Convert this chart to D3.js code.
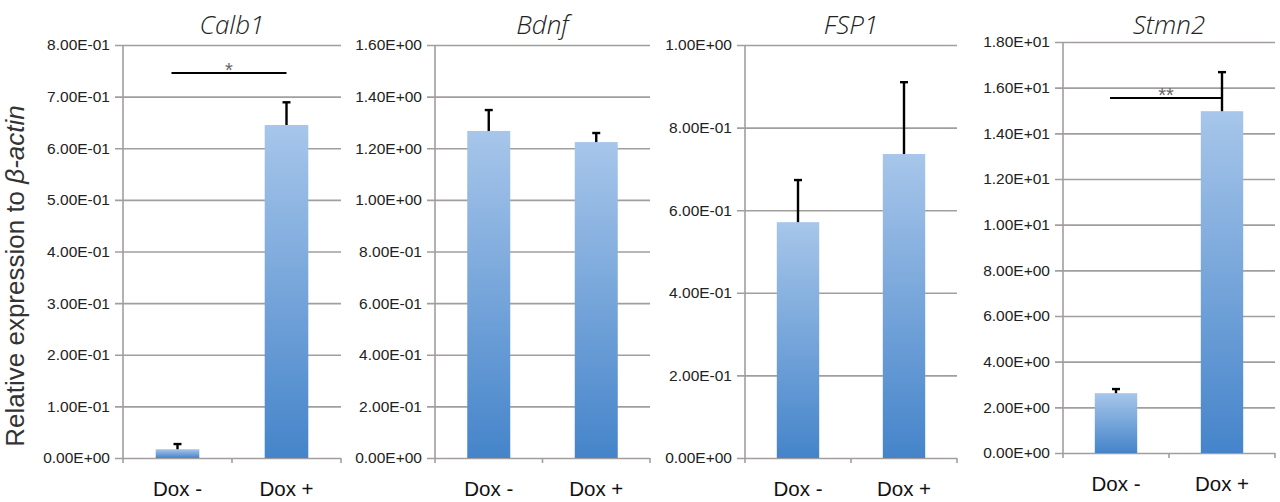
<!DOCTYPE html>
<html>
<head>
<meta charset="utf-8">
<script src="https://cdn.jsdelivr.net/npm/d3@7"></script>
<style>
  body { margin: 0; background: #fff; }
  svg { display: block; }
</style>
</head>
<body>
<div id="chart"></div>
<script>
"use strict";

var genes = ["Calb1", "Bdnf", "FSP1", "Stmn2"];
var groups = ["Dox -", "Dox +"];

// mean expression per gene, [Dox -, Dox +]
var means = [
  [0.017, 0.645],
  [1.267, 1.224],
  [0.571, 0.736],
  [2.62, 14.97]
];
// upper error (sd) per gene
var errors = [
  [0.010, 0.044],
  [0.081, 0.035],
  [0.102, 0.174],
  [0.18, 1.71]
];

var axisMax = [0.8, 1.6, 1.0, 18];
var tickStep = [0.1, 0.2, 0.2, 2];

// significance brackets: gene index, height, label
var sigGene = [0, 3];
var sigLevel = [0.746, 15.55];
var sigLabel = ["*", "**"];

// layout of the four panels (pixels)
var panelLeft = [123, 435, 745, 1063];
var panelWidth = [218, 215, 212, 212];
var panelTop = [45, 45, 45, 42];
var panelBottom = [458, 458, 458, 453];

var W = 1280, H = 502;

var svg = d3.select("#chart").append("svg")
  .attr("width", W)
  .attr("height", H);

var grad = svg.append("defs").append("linearGradient")
  .attr("id", "barGrad")
  .attr("x1", 0).attr("y1", 0).attr("x2", 0).attr("y2", 1);
grad.append("stop").attr("offset", "0%").attr("stop-color", "#a7c6ea");
grad.append("stop").attr("offset", "100%").attr("stop-color", "#4584ca");

function fmtE(v) {
  var s = d3.format(".2e")(v);
  var parts = s.split("e");
  var n = +parts[1];
  return parts[0] + "E" + (n < 0 ? "-" : "+") + String(Math.abs(n)).padStart(2, "0");
}

var gridColor = "#a39e9e";

genes.forEach(function(gene, i) {
  var x0 = panelLeft[i], w = panelWidth[i];
  var g = svg.append("g");

  var x = d3.scaleBand()
    .domain(groups)
    .range([x0, x0 + w])
    .paddingInner(0.6)
    .paddingOuter(0.3);

  var y = d3.scaleLinear()
    .domain([0, axisMax[i]])
    .range([panelBottom[i], panelTop[i]]);

  var ticks = d3.range(0, axisMax[i] + tickStep[i] / 2, tickStep[i]);

  // y axis with gridlines
  var yAxis = d3.axisLeft(y)
    .tickValues(ticks)
    .tickFormat(fmtE)
    .tickSize(-(w + 8))
    .tickPadding(5);

  var ya = g.append("g")
    .attr("transform", "translate(" + (x0 - 8) + ",0)")
    .call(yAxis);
  ya.select(".domain").remove();
  ya.selectAll(".tick line")
    .attr("x1", 0)
    .attr("x2", w + 8)
    .attr("stroke", gridColor)
    .attr("stroke-width", 1.6);
  ya.selectAll(".tick text")
    .attr("x", -5)
    .attr("font-family", "Liberation Sans, Arial, sans-serif")
    .attr("font-size", 15.5)
    .attr("fill", "#222");

  // vertical axis line
  g.append("line")
    .attr("x1", x0).attr("x2", x0)
    .attr("y1", panelTop[i]).attr("y2", panelBottom[i])
    .attr("stroke", gridColor)
    .attr("stroke-width", 1.6);

  // category boundary ticks
  var bounds = [x0, x0 + w / 2, x0 + w];
  g.selectAll(".xtick")
    .data(bounds)
    .enter()
      .append("line")
        .attr("x1", function(d) { return d; })
        .attr("x2", function(d) { return d; })
        .attr("y1", panelBottom[i])
        .attr("y2", panelBottom[i] + 5)
        .attr("stroke", gridColor)
        .attr("stroke-width", 1.6);

  var rows = groups.map(function(grp, j) {
    return {group: grp, v: means[i][j], e: errors[i][j]};
  });

  // bars
  g.selectAll("rect.bar")
    .data(rows)
    .enter()
      .append("rect")
        .attr("class", "bar")
        .attr("x", function(d) { return x(d.group); })
        .attr("width", x.bandwidth())
        .attr("y", function(d) { return y(d.v); })
        .attr("height", function(d) { return y(0) - y(d.v); })
        .attr("fill", "url(#barGrad)");

  // error bars (upper only)
  var cx = function(d) { return x(d.group) + x.bandwidth() / 2; };
  g.selectAll("line.err")
    .data(rows)
    .enter()
      .append("line")
        .attr("class", "err")
        .attr("x1", cx).attr("x2", cx)
        .attr("y1", function(d) { return y(d.v); })
        .attr("y2", function(d) { return y(d.v + d.e); })
        .attr("stroke", "#000")
        .attr("stroke-width", 2.4);
  g.selectAll("line.cap")
    .data(rows)
    .enter()
      .append("line")
        .attr("class", "cap")
        .attr("x1", function(d) { return cx(d) - 4; })
        .attr("x2", function(d) { return cx(d) + 4; })
        .attr("y1", function(d) { return y(d.v + d.e); })
        .attr("y2", function(d) { return y(d.v + d.e); })
        .attr("stroke", "#000")
        .attr("stroke-width", 2.4);

  // category labels
  g.selectAll("text.cat")
    .data(groups)
    .enter()
      .append("text")
        .attr("class", "cat")
        .attr("x", function(d) { return x(d) + x.bandwidth() / 2; })
        .attr("y", panelBottom[i] + 38)
        .attr("text-anchor", "middle")
        .attr("font-family", "Liberation Sans, Arial, sans-serif")
        .attr("font-size", 20.5)
        .attr("fill", "#111")
        .text(function(d) { return d; });

  // gene title
  g.append("text")
    .attr("x", x0 + w / 2)
    .attr("y", 34)
    .attr("text-anchor", "middle")
    .attr("font-family", "Open Sans, DejaVu Sans, sans-serif")
    .attr("font-style", "italic")
    .attr("font-weight", 300)
    .attr("font-size", 26)
    .attr("fill", "#222")
    .text(gene);

  // significance bracket
  var k = sigGene.indexOf(i);
  if (k >= 0) {
    var xa = cx(rows[0]) - 6, xb = cx(rows[1]);
    var ys = y(sigLevel[k]);
    g.append("line")
      .attr("x1", xa).attr("x2", xb)
      .attr("y1", ys).attr("y2", ys)
      .attr("stroke", "#000")
      .attr("stroke-width", 2);
    g.append("text")
      .attr("x", (xa + xb) / 2)
      .attr("y", ys + 4)
      .attr("text-anchor", "middle")
      .attr("font-family", "Liberation Sans, Arial, sans-serif")
      .attr("font-size", 20)
      .attr("fill", "#666")
      .text(sigLabel[k]);
  }
});

// shared y label
var yl = svg.append("text")
  .attr("transform", "translate(24,276) rotate(-90)")
  .attr("text-anchor", "middle")
  .attr("font-family", "Liberation Sans, Arial, sans-serif")
  .attr("font-size", 26)
  .attr("fill", "#333");
yl.append("tspan").text("Relative expression to ");
yl.append("tspan").attr("font-style", "italic").text("β-actin");
</script>
</body>
</html>
